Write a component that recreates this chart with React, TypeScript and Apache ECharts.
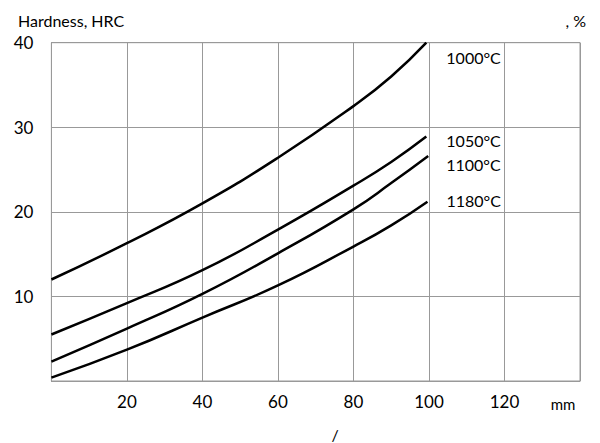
import React, { useEffect, useRef } from "react";
import * as echarts from "echarts";

const xTicks = [0, 20, 40, 60, 80, 100, 120, 140];
const yTicks = [0, 10, 20, 30, 40];

const temps = ["1000°C", "1050°C", "1100°C", "1180°C"];
const xs1000 = [0, 20, 40, 60, 80, 90, 99.3];
const ys1000 = [12.0, 16.3, 21.0, 26.4, 32.5, 36.0, 40];
const xs1050 = [0, 20, 40, 60, 80, 90, 99.3];
const ys1050 = [5.5, 9.2, 13.1, 17.9, 23.1, 25.9, 28.9];
const xs1100 = [0, 20, 40, 60, 80, 90, 99.8];
const ys1100 = [2.3, 6.2, 10.3, 15.1, 20.3, 23.4, 26.6];
const xs1180 = [0, 20, 40, 60, 80, 90, 99.6];
const ys1180 = [0.4, 3.7, 7.5, 11.3, 15.9, 18.4, 21.2];

const labelOffsets: [number, number][] = [
  [12, 15],
  [12, 4],
  [10, 8],
  [11, -1],
];

const FONT = "Lato, 'DejaVu Sans', sans-serif";

export default function App() {
  const ref = useRef<HTMLDivElement>(null);
  useEffect(() => {
    document.body.style.margin = "0";
    if (!ref.current) return;
    const chart = echarts.init(ref.current, undefined, { renderer: "svg" });
    const sets = [
      [xs1000, ys1000],
      [xs1050, ys1050],
      [xs1100, ys1100],
      [xs1180, ys1180],
    ];
    const series = sets.map(([xs, ys], i) => ({
      type: "line",
      name: temps[i],
      data: xs.map((x, j) => [x, ys[j]]),
      smooth: 0.5,
      showSymbol: false,
      lineStyle: { color: "#000", width: 2.5 },
      endLabel: {
        show: true,
        formatter: temps[i],
        color: "#000",
        fontSize: 16,
        fontFamily: FONT,
        offset: labelOffsets[i],
      },
    }));
    chart.setOption({
      animation: false,
      textStyle: { fontFamily: FONT },
      grid: {
        left: 51.4,
        right: 20,
        top: 42.7,
        bottom: 62,
        show: true,
        borderColor: "#999",
        borderWidth: 1,
      },
      xAxis: {
        type: "value",
        min: xTicks[0],
        max: xTicks[xTicks.length - 1],
        interval: 20,
        axisLine: { show: true, lineStyle: { color: "#999", width: 1 } },
        axisTick: { show: false },
        splitLine: { show: true, lineStyle: { color: "#999", width: 1 } },
        axisLabel: {
          margin: 12,
          color: "#000",
          fontSize: 17,
          fontFamily: FONT,
          formatter: (v: number) => (v === 0 || v === 140 ? "" : String(v)),
        },
      },
      yAxis: {
        type: "value",
        min: yTicks[0],
        max: yTicks[yTicks.length - 1],
        interval: 10,
        axisLine: { show: true, lineStyle: { color: "#999", width: 1 } },
        axisTick: { show: false },
        splitLine: { show: true, lineStyle: { color: "#999", width: 1 } },
        axisLabel: {
          margin: 18,
          color: "#000",
          fontSize: 17,
          fontFamily: FONT,
          formatter: (v: number) => (v === 0 ? "" : String(v)),
        },
      },
      graphic: [
        {
          type: "text",
          left: 18,
          top: 12,
          style: { text: "Hardness, HRC", fontSize: 16, fontFamily: FONT, fill: "#000" },
        },
        {
          type: "text",
          right: 14,
          top: 12,
          style: { text: ", %", fontSize: 16, fontFamily: FONT, fill: "#000" },
        },
        {
          type: "text",
          x: 563,
          y: 404,
          style: {
            text: "mm",
            fontSize: 15,
            fontFamily: FONT,
            fill: "#000",
            align: "center",
            verticalAlign: "middle",
          },
        },
        {
          type: "text",
          x: 335,
          y: 434,
          style: {
            text: "/",
            fontSize: 16,
            fontFamily: FONT,
            fill: "#000",
            align: "center",
            verticalAlign: "middle",
          },
        },
      ],
      series,
    });
    return () => chart.dispose();
  }, []);
  return <div ref={ref} style={{ width: 600, height: 443 }} />;
}
